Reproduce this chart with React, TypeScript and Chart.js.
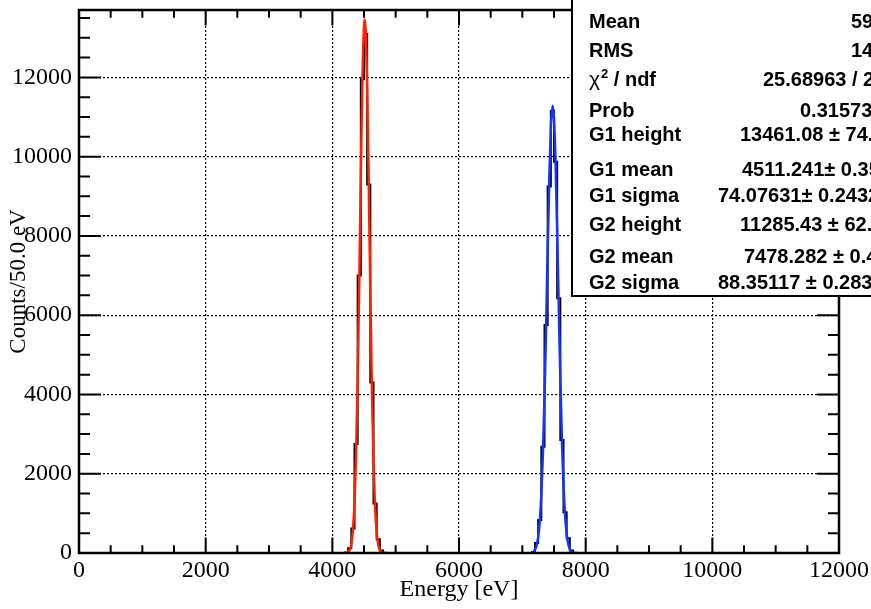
import { useEffect, useRef } from 'react';
import { Chart, registerables } from 'chart.js';

Chart.register(...registerables);

// ---- data ----
const binWidth = 50; // eV per bin
const xMin = 0;
const xMax = 12000;
const yMax = 13700;
const xTickValues = [0, 2000, 4000, 6000, 8000, 10000, 12000];
const yTickValues = [0, 2000, 4000, 6000, 8000, 10000, 12000];

// histogram bin contents (first bin lower edge given by *Start)
const peak1Start = 4200;
const peak1Counts = [10, 120, 620, 2750, 7000, 11950, 13100, 9300, 4300, 1250, 350, 60, 5];
const peak2Start = 7150;
const peak2Counts = [20, 250, 830, 2680, 5750, 9250, 11150, 9870, 6430, 2850, 1030, 370, 60, 5];

// fitted curves
const fit1Energies = [4225, 4250, 4275, 4300, 4325, 4350, 4375, 4400, 4425, 4450, 4475, 4500, 4511, 4525, 4550, 4575, 4600, 4625, 4650, 4675, 4700, 4725, 4750, 4775, 4800];
const fit1Values = [8, 27, 83, 231, 571, 1261, 2484, 4361, 6838, 9568, 11945, 13308, 13461, 13231, 11738, 9294, 6566, 4141, 2329, 1170, 524, 209, 75, 24, 7];
const fit2Energies = [7150, 7175, 7200, 7225, 7250, 7275, 7300, 7325, 7350, 7375, 7400, 7425, 7450, 7478, 7500, 7525, 7550, 7575, 7600, 7625, 7650, 7675, 7700, 7725, 7750, 7775, 7800];
const fit2Values = [11, 31, 79, 185, 400, 799, 1473, 2505, 3933, 5697, 7620, 9407, 10721, 11285, 10950, 9814, 8118, 6200, 4370, 2844, 1707, 947, 484, 229, 100, 40, 15];

// statistics box
const statLabels = ['Mean', 'RMS', 'χ² / ndf', 'Prob', 'G1 height', 'G1 mean', 'G1 sigma', 'G2 height', 'G2 mean', 'G2 sigma'];
const statValues = ['5995', '1486', '25.68963 / 23', '0.315734', '13461.08 ± 74.62', '4511.241± 0.3533', '74.07631± 0.2432', '11285.43 ± 62.17', '7478.282 ± 0.4135', '88.35117 ± 0.2832'];

// ---- layout constants ----
const statBaselines = [27.7, 57.3, 85.5, 117.3, 141, 176, 202.3, 231, 263.3, 289.3];
const statValueX = [851, 851, 763, 800, 740, 742, 718, 740, 744, 718];

const serif = '"Liberation Serif", "Times New Roman", serif';
const sans = '"Liberation Sans", Arial, sans-serif';

function buildHistogram() {
  const nBins = Math.round((xMax - xMin) / binWidth);
  const counts = new Array(nBins).fill(0);
  const put = (start: number, arr: number[]) => {
    const i0 = Math.round((start - xMin) / binWidth);
    arr.forEach((c, k) => { counts[i0 + k] = c; });
  };
  put(peak1Start, peak1Counts);
  put(peak2Start, peak2Counts);
  const pts = counts.map((c, i) => ({ x: xMin + i * binWidth, y: c }));
  pts.push({ x: xMax, y: 0 });
  return pts;
}

const framePlugin = {
  id: 'rootFrame',
  afterDatasetsDraw(chart: any) {
    const { ctx, chartArea, scales } = chart;
    const { left, right, top, bottom } = chartArea;
    const x = scales.x;
    const y = scales.y;
    ctx.save();
    ctx.strokeStyle = '#000';
    ctx.lineWidth = 2;
    ctx.beginPath();
    for (let v = xMin; v <= xMax; v += 500) {
      const px = x.getPixelForValue(v);
      const len = v % 2000 === 0 ? 15.5 : 7.7;
      ctx.moveTo(px, bottom); ctx.lineTo(px, bottom - len);
      ctx.moveTo(px, top); ctx.lineTo(px, top + len);
    }
    for (let v = 0; v <= yMax; v += 500) {
      const py = y.getPixelForValue(v);
      const len = v % 2000 === 0 ? 22 : 11;
      ctx.moveTo(left, py); ctx.lineTo(left + len, py);
      ctx.moveTo(right, py); ctx.lineTo(right - len, py);
    }
    ctx.stroke();
    ctx.lineWidth = 2.5;
    ctx.strokeRect(left, top, right - left, bottom - top);
    ctx.restore();
  },
};

const statsPlugin = {
  id: 'statsBox',
  afterDraw(chart: any) {
    const { ctx } = chart;
    ctx.save();
    ctx.fillStyle = '#fff';
    ctx.fillRect(572, -5, 400, 301);
    ctx.strokeStyle = '#000';
    ctx.lineWidth = 2;
    ctx.strokeRect(572, -5, 400, 301);
    ctx.fillStyle = '#000';
    ctx.textBaseline = 'alphabetic';
    ctx.textAlign = 'left';
    statLabels.forEach((label, i) => {
      const b = statBaselines[i];
      if (label.startsWith('χ')) {
        ctx.font = `21px ${sans}`;
        ctx.fillText('χ', 589, b);
        const w1 = ctx.measureText('χ').width;
        ctx.font = `bold 13px ${sans}`;
        ctx.fillText('2', 589 + w1 + 1, b - 8);
        const w2 = ctx.measureText('2').width;
        ctx.font = `bold 20px ${sans}`;
        ctx.fillText(label.slice(2), 589 + w1 + w2 + 1, b);
      } else {
        ctx.font = `bold 20px ${sans}`;
        ctx.fillText(label, 589, b);
      }
      ctx.font = `bold 20px ${sans}`;
      ctx.fillText(statValues[i], statValueX[i], b);
    });
    ctx.restore();
  },
};

export default function App() {
  const ref = useRef<HTMLCanvasElement>(null);
  useEffect(() => {
    const canvas = ref.current;
    if (!canvas) return;
    const hist = buildHistogram();
    const chart = new Chart(canvas, {
      type: 'line',
      data: {
        datasets: [
          {
            label: 'G1 fit',
            data: fit1Energies.map((e, i) => ({ x: e, y: fit1Values[i] })),
            borderColor: '#ff2200',
            borderWidth: 2.5,
            pointRadius: 0,
            cubicInterpolationMode: 'monotone',
            fill: false,
            order: 0,
          },
          {
            label: 'G2 fit',
            data: fit2Energies.map((e, i) => ({ x: e, y: fit2Values[i] })),
            borderColor: '#1535ff',
            borderWidth: 2.5,
            pointRadius: 0,
            cubicInterpolationMode: 'monotone',
            fill: false,
            order: 1,
          },
          {
            label: 'Histogram',
            data: hist,
            borderColor: '#000',
            borderWidth: 2,
            pointRadius: 0,
            stepped: true,
            fill: false,
            order: 2,
          },
        ],
      },
      options: {
        responsive: false,
        animation: false,
        devicePixelRatio: 1,
        layout: { padding: { top: 10, right: 32, left: 0, bottom: 0 } },
        plugins: {
          legend: { display: false },
          tooltip: { enabled: false },
        },
        scales: {
          x: {
            type: 'linear',
            position: 'bottom',
            min: xMin,
            max: xMax,
            afterBuildTicks: (s: any) => { s.ticks = xTickValues.map((v) => ({ value: v })); },
            afterFit: (s: any) => { s.height = 56; s.paddingLeft = 0; s.paddingRight = 0; },
            ticks: {
              autoSkip: false,
              maxRotation: 0,
              padding: 3,
              color: '#000',
              font: { family: serif, size: 24 },
              callback: (v: any) => String(v),
            },
            grid: {
              color: (c: any) => (c.tick && (c.tick.value === xMin || c.tick.value === xMax) ? 'rgba(0,0,0,0)' : '#000'),
              lineWidth: 1.2,
              drawTicks: false,
            },
            border: { display: false, dash: [2, 2] },
            title: {
              display: true,
              text: 'Energy [eV]',
              color: '#000',
              font: { family: serif, size: 24 },
              padding: { top: 0, bottom: 5 },
            },
          },
          y: {
            type: 'linear',
            min: 0,
            max: yMax,
            afterBuildTicks: (s: any) => { s.ticks = yTickValues.map((v) => ({ value: v })); },
            afterFit: (s: any) => { s.width = 79; s.paddingTop = 0; s.paddingBottom = 0; },
            ticks: {
              autoSkip: false,
              padding: 7,
              color: '#000',
              font: { family: serif, size: 24 },
              callback: (v: any) => String(v),
            },
            grid: {
              color: (c: any) => (c.tick && c.tick.value === 0 ? 'rgba(0,0,0,0)' : '#000'),
              lineWidth: 1.2,
              drawTicks: false,
            },
            border: { display: false, dash: [2, 2] },
            title: {
              display: true,
              text: 'Counts/50.0 eV',
              color: '#000',
              font: { family: serif, size: 23 },
              padding: { top: 5, bottom: 0 },
            },
          },
        },
      },
      plugins: [framePlugin, statsPlugin],
    } as any);
    return () => chart.destroy();
  }, []);

  return (
    <div style={{ position: 'fixed', left: 0, top: 0, width: 871, height: 609, background: '#fff' }}>
      <canvas ref={ref} width={871} height={609} style={{ display: 'block', width: 871, height: 609 }} />
    </div>
  );
}
